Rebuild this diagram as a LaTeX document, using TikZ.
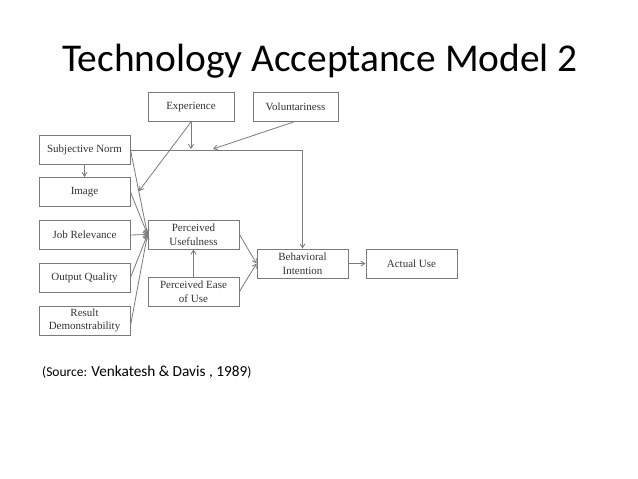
\documentclass[tikz,border=0pt]{standalone}
\usepackage{fontspec}
\setmainfont{Liberation Serif}
\newfontfamily\slidefont{Carlito}
\usetikzlibrary{arrows.meta}
\definecolor{linegray}{HTML}{7A7A7A}
\definecolor{textgray}{HTML}{333333}
\begin{document}
\begin{tikzpicture}[x=1pt,y=-1pt,
  box/.style={draw=linegray,line width=1pt,minimum width=91pt,minimum height=29pt,inner sep=0pt,align=center,text=textgray,font=\fontsize{11}{13.5}\selectfont},
  arr/.style={draw=linegray,line width=0.8pt,-{Straight Barb[length=4pt,width=5pt]}}]
\path[use as bounding box,fill=white] (0,0) rectangle (638,479);
\node[font=\slidefont\fontsize{39.4}{44}\selectfont] (title) at (320,61) {Technology Acceptance Model 2};
% boxes
\node[box,minimum width=86pt] (exp) at (191,107) {Experience};
\node[box,minimum width=85pt] (vol) at (295.5,107) {Voluntariness};
\node[box] (sn) at (84.5,150) {Subjective Norm};
\node[box] (img) at (84.5,192) {Image};
\node[box] (jr) at (84.5,235) {Job Relevance};
\node[box] (oq) at (84.5,277.5) {Output Quality};
\node[box] (rd) at (84.5,320.5) {Result\\Demonstrability};
\node[box] (pu) at (193.5,234.5) {Perceived\\Usefulness};
\node[box] (peou) at (193.5,291.5) {Perceived Ease\\of Use};
\node[box] (bi) at (302.5,263.5) {Behavioral\\Intention};
\node[box] (au) at (411.5,263.5) {Actual Use};
% moderator points
\coordinate (expj) at (191,149);
\coordinate (volj) at (213,149);
\coordinate (snmod) at (139,191);
% arrows
\draw[arr] (sn) -- (img);
\draw[arr] (sn.east) -| (bi.north);
\draw[arr] (exp.south) -- (expj);
\draw[arr] ([xshift=-2pt]vol.south) -- (volj);
\draw[arr] (exp.south) -- (snmod);
\draw[arr] (sn.east) -- (pu.west);
\draw[arr] (img.east) -- (pu.west);
\draw[arr] (jr.east) -- (pu.west);
\draw[arr] (oq.east) -- (pu.west);
\draw[arr] ([yshift=-5pt]rd.east) -- (pu.west);
\draw[arr] (peou) -- (pu);
\draw[arr] (pu.east) -- (bi.west);
\draw[arr] (peou.east) -- (bi.west);
\draw[arr] (bi) -- (au);
% source
\node[anchor=base west,inner sep=0pt,font=\slidefont\fontsize{13.5}{15}\selectfont] (src) at (42,376)
  {(Source: {\fontsize{15.3}{17}\selectfont Venkatesh \& Davis , 1989})};
\end{tikzpicture}
\end{document}
